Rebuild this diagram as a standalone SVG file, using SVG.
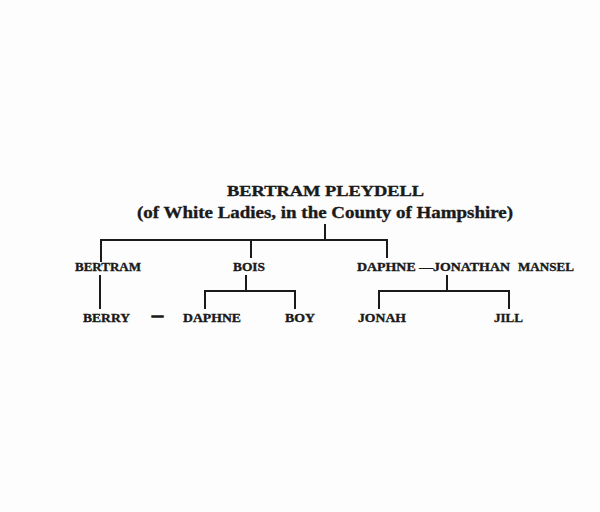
<svg xmlns="http://www.w3.org/2000/svg" width="600" height="512" viewBox="0 0 600 512">
<style>
text{font-family:"Liberation Serif","DejaVu Serif",serif;font-weight:bold;fill:#1a1a1a;stroke:#1a1a1a;stroke-width:0.35}
.t{font-size:14.5px}
.s{font-size:16.5px}
.n{font-size:12px}
.d{stroke-width:1.4}
.c line{stroke:#1a1a1a;stroke-width:2;fill:none}
</style>
<rect width="600" height="512" fill="#fdfdfd"/>
<g id="root">
<text class="t" x="227" y="195.5" textLength="197" lengthAdjust="spacingAndGlyphs">BERTRAM PLEYDELL</text>
<text class="s" x="137" y="218" textLength="376" lengthAdjust="spacingAndGlyphs">(of White Ladies, in the County of Hampshire)</text>
</g>
<g id="bertram"><text class="n" x="75" y="270.5" textLength="66" lengthAdjust="spacingAndGlyphs">BERTRAM</text></g>
<g id="bois"><text class="n" x="233" y="270.5" textLength="32" lengthAdjust="spacingAndGlyphs">BOIS</text></g>
<g id="daphne-jonathan"><text class="n" x="357" y="270.5" textLength="153" lengthAdjust="spacingAndGlyphs">DAPHNE —JONATHAN</text><text class="n" x="518" y="270.5" textLength="56" lengthAdjust="spacingAndGlyphs">MANSEL</text></g>
<g id="berry"><text class="n" x="83" y="321.5" textLength="47" lengthAdjust="spacingAndGlyphs">BERRY</text></g>
<g id="dash"><text class="n d" x="152" y="319" textLength="11" lengthAdjust="spacingAndGlyphs">—</text></g>
<g id="daphne"><text class="n" x="183" y="321.5" textLength="58" lengthAdjust="spacingAndGlyphs">DAPHNE</text></g>
<g id="boy"><text class="n" x="285" y="321.5" textLength="30" lengthAdjust="spacingAndGlyphs">BOY</text></g>
<g id="jonah"><text class="n" x="358" y="321.5" textLength="48" lengthAdjust="spacingAndGlyphs">JONAH</text></g>
<g id="jill"><text class="n" x="494" y="321.5" textLength="29" lengthAdjust="spacingAndGlyphs">JILL</text></g>
<g class="c" id="connectors">
<line x1="325" y1="224" x2="325" y2="241"/>
<line x1="100" y1="240" x2="388" y2="240"/>
<line x1="101" y1="240" x2="101" y2="262"/>
<line x1="251" y1="240" x2="251" y2="258"/>
<line x1="387" y1="240" x2="387" y2="258"/>
<line x1="100" y1="275" x2="100" y2="309"/>
<line x1="246" y1="275" x2="246" y2="292"/>
<line x1="204" y1="291" x2="296" y2="291"/>
<line x1="205" y1="291" x2="205" y2="309"/>
<line x1="295" y1="291" x2="295" y2="309"/>
<line x1="447" y1="275" x2="447" y2="292"/>
<line x1="378" y1="291" x2="510" y2="291"/>
<line x1="379" y1="291" x2="379" y2="309"/>
<line x1="509" y1="291" x2="509" y2="309"/>
</g>
</svg>
